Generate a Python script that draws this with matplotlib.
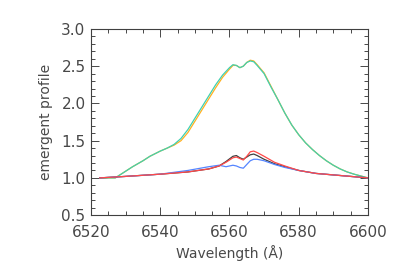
import matplotlib
matplotlib.use("Agg")
import matplotlib.pyplot as plt
from matplotlib.ticker import MultipleLocator

# emergent profiles
wl_top = [6522.5, 6527, 6530, 6532, 6535, 6537, 6540, 6542, 6544, 6546, 6548, 6550,
          6552, 6554, 6556, 6558, 6560, 6561, 6562, 6563, 6564, 6565, 6566, 6567,
          6568, 6570, 6572, 6574, 6576, 6578, 6580, 6582, 6584, 6586, 6588, 6590,
          6592, 6594, 6596, 6598, 6600]
cyan_vals = [1.00, 1.00, 1.09, 1.15, 1.23, 1.29, 1.36, 1.40, 1.45, 1.53, 1.65, 1.80,
             1.95, 2.10, 2.25, 2.38, 2.48, 2.52, 2.51, 2.48, 2.50, 2.55, 2.57, 2.56,
             2.51, 2.40, 2.22, 2.05, 1.87, 1.71, 1.58, 1.47, 1.38, 1.30, 1.23, 1.17,
             1.12, 1.08, 1.05, 1.025, 1.00]
orange_vals = [1.00, 1.00, 1.09, 1.15, 1.23, 1.29, 1.36, 1.40, 1.44, 1.50, 1.61, 1.76,
               1.91, 2.06, 2.21, 2.35, 2.46, 2.51, 2.51, 2.48, 2.50, 2.55, 2.58, 2.57,
               2.52, 2.41, 2.23, 2.05, 1.87, 1.71, 1.58, 1.47, 1.38, 1.30, 1.23, 1.17,
               1.12, 1.08, 1.05, 1.025, 1.00]

wl_low = [6522.5, 6530, 6540, 6548, 6554, 6557, 6559, 6561, 6562, 6563, 6564, 6565,
          6566, 6567, 6568, 6570, 6573, 6576, 6580, 6585, 6590, 6595, 6600]
black_vals = [1.00, 1.02, 1.05, 1.08, 1.12, 1.16, 1.22, 1.29, 1.30, 1.27, 1.25, 1.28,
              1.31, 1.32, 1.30, 1.25, 1.19, 1.15, 1.10, 1.06, 1.04, 1.02, 1.00]
red_vals = [1.00, 1.02, 1.05, 1.08, 1.12, 1.16, 1.21, 1.27, 1.28, 1.26, 1.24, 1.29,
            1.35, 1.36, 1.34, 1.29, 1.21, 1.16, 1.10, 1.06, 1.04, 1.02, 1.00]
blue_vals = [1.00, 1.02, 1.05, 1.10, 1.15, 1.17, 1.15, 1.17, 1.16, 1.14, 1.13, 1.18,
             1.23, 1.25, 1.25, 1.23, 1.18, 1.14, 1.10, 1.06, 1.04, 1.02, 1.00]

fig = plt.figure(figsize=(3.96, 2.73), dpi=100)
ax = fig.add_axes([0.230, 0.212, 0.699, 0.682])

ax.plot(wl_top, orange_vals, color='#ffb020', lw=0.9)
ax.plot(wl_top, cyan_vals, color='#40d0b0', lw=0.9)
ax.plot(wl_low, black_vals, color='#404040', lw=0.9)
ax.plot(wl_low, blue_vals, color='#5585ff', lw=0.9)
ax.plot(wl_low, red_vals, color='#ff4848', lw=0.9)

ax.set_xlim(6520, 6600)
ax.set_ylim(0.5, 3.0)
ax.xaxis.set_major_locator(MultipleLocator(20))
ax.xaxis.set_minor_locator(MultipleLocator(5))
ax.yaxis.set_major_locator(MultipleLocator(0.5))
ax.yaxis.set_minor_locator(MultipleLocator(0.1))
ax.tick_params(which='both', direction='in', top=True, right=True,
               colors='#484848', labelsize=11, width=0.7)
ax.tick_params(which='major', length=6)
ax.tick_params(which='minor', length=3)
ax.tick_params(axis='x', which='major', pad=7)
ax.tick_params(axis='y', which='major', pad=4)
for s in ax.spines.values():
    s.set_color('#404040')
    s.set_linewidth(0.8)

ax.set_xlabel('Wavelength (Å)', color='#484848', fontsize=10)
ax.set_ylabel('emergent profile', color='#484848', fontsize=10, labelpad=6)

fig.savefig('out.png', dpi=100)
